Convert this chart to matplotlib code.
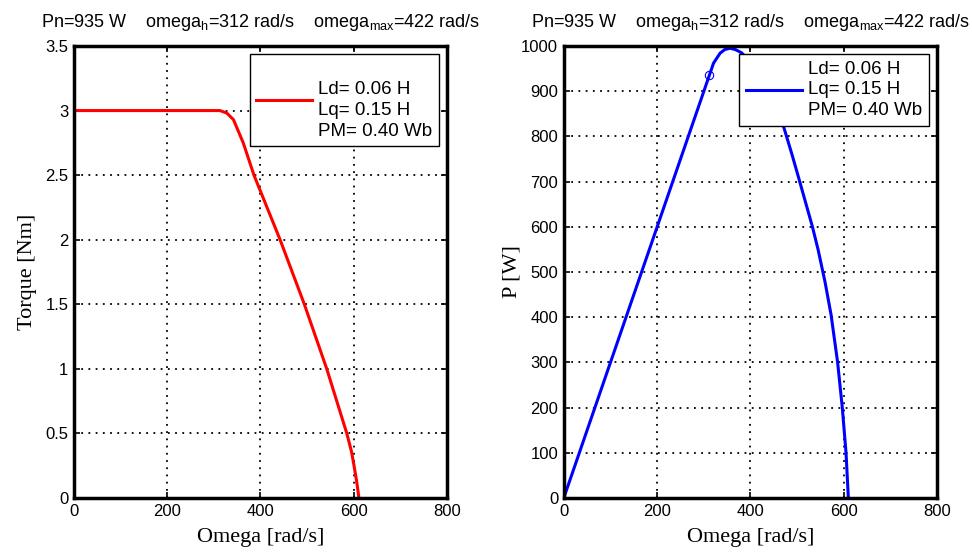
import numpy as np
import matplotlib.pyplot as plt

plt.rcParams['font.family'] = ['Liberation Sans', 'DejaVu Sans']
plt.rcParams['mathtext.fontset'] = 'custom'
plt.rcParams['mathtext.rm'] = 'Liberation Sans'
plt.rcParams['mathtext.it'] = 'Liberation Sans:italic'

# torque-speed curve (constant torque region then field weakening)
omega_t = [0, 313, 328, 342, 363, 386, 442, 494, 542, 585, 595, 600, 606, 611]
torque = [3.0, 3.0, 2.98, 2.93, 2.75, 2.5, 2.0, 1.5, 1.0, 0.5, 0.36, 0.26, 0.13, 0.0]

# power-speed curve
omega_p = [0, 312, 321, 335, 345, 356, 368, 381, 400, 430, 460, 474, 490, 503,
           518, 533, 545, 560, 573, 587, 597, 605, 610]
power = [0, 935, 962, 984, 992, 995, 992, 985, 965, 920, 858, 812, 757, 710,
         655, 600, 550, 478, 405, 300, 200, 100, 0]

# rated point
omega_n = 312
p_n = 935
omega_max = 422

title = ('Pn=%d W    omega$_\\mathregular{h}$=%d rad/s    omega$_\\mathregular{max}$=%d rad/s'
         % (p_n, omega_n, omega_max))
leg_lines = 'Ld= 0.06 H\nLq= 0.15 H\nPM= 0.40 Wb'

fig = plt.figure(figsize=(9.72, 5.52), dpi=100)
ax1 = fig.add_axes([0.076, 0.0978, 0.384, 0.8189])
ax2 = fig.add_axes([0.580, 0.0978, 0.384, 0.8189])


def style(ax, yticks, ylabels, ylabel, pad):
    ax.set_xlim(0, 800)
    ax.set_xticks([0, 200, 400, 600, 800])
    ax.set_xticklabels(['0', '200', '400', '600', '800'])
    ax.set_ylim(yticks[0], yticks[-1])
    ax.set_yticks(yticks)
    ax.set_yticklabels(ylabels)
    ax.grid(True, color='black', linestyle=(0, (1, 3)), linewidth=1.3)
    ax.tick_params(direction='in', length=4, width=1.2, top=True, right=True,
                   labelsize=12, pad=4)
    for s in ax.spines.values():
        s.set_linewidth(2.5)
    ax.set_xlabel('Omega [rad/s]', family='Liberation Serif', fontsize=16, labelpad=7)
    ax.set_ylabel(ylabel, family='Liberation Serif', fontsize=16, labelpad=pad)
    ax.set_title(title, fontsize=13, pad=14)


def add_legend(ax, line, label):
    leg = ax.legend([line], [label], loc='upper right', fontsize=13.5,
                    fancybox=False, edgecolor='black', framealpha=1,
                    borderaxespad=0.45, handlelength=3.0, handletextpad=0.3,
                    borderpad=0.35)
    leg.get_frame().set_linewidth(1.0)
    for t in leg.get_texts():
        t.set_linespacing(1.27)
    return leg


l1, = ax1.plot(omega_t, torque, color='red', linewidth=2.2)
style(ax1, [0, 0.5, 1, 1.5, 2, 2.5, 3, 3.5],
      ['0', '0.5', '1', '1.5', '2', '2.5', '3', '3.5'], 'Torque [Nm]', 6)
add_legend(ax1, l1, '\n' + leg_lines)

l2, = ax2.plot(omega_p, power, color='blue', linewidth=2.2)
ax2.plot([omega_n], [p_n], marker='o', markersize=6, markerfacecolor='none',
         markeredgecolor='blue', markeredgewidth=0.8)
style(ax2, list(range(0, 1001, 100)), [str(v) for v in range(0, 1001, 100)], 'P [W]', 0)
add_legend(ax2, l2, leg_lines)

fig.savefig('out.png', dpi=100)
